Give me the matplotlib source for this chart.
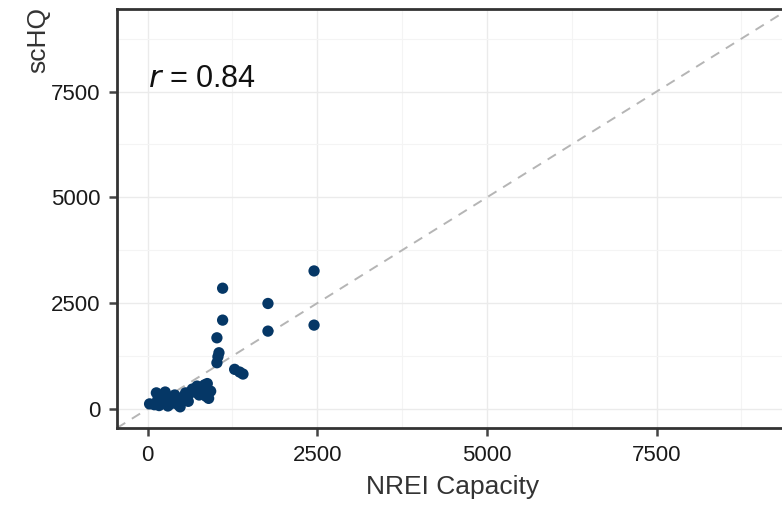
import matplotlib
matplotlib.use("Agg")
import matplotlib.pyplot as plt
from matplotlib.ticker import MultipleLocator

plt.rcParams['font.family'] = ['Liberation Sans', 'DejaVu Sans']

# NREI capacity vs scHQ, one point per site
nrei = [30, 100, 130, 150, 170, 230, 260, 290, 300, 340, 390, 450, 480, 520,
        560, 600, 610, 660, 700, 730, 760, 800, 840, 880, 880, 860, 900, 930,
        480, 400,
        1106, 1106, 1022, 1052, 1037, 1022, 1283, 1357, 1406,
        1774, 1774, 2453, 2453]
schq = [120, 100, 380, 220, 80, 300, 400, 220, 70, 120, 200, 100, 240, 280,
        380, 180, 350, 470, 400, 540, 330, 450, 570, 600, 400, 300, 250, 420,
        50, 330,
        2853, 2099, 1681, 1328, 1233, 1092, 936, 872, 825,
        2492, 1839, 3261, 1981]

r_value = 0.84
ticks = [0, 2500, 5000, 7500]
lims = (-450, 9450)

fig = plt.figure(figsize=(7.82, 5.08), dpi=100)
ax = fig.add_axes([117 / 782, 80 / 508, (789 - 117) / 782, (499 - 80) / 508])

ax.set_xlim(*lims)
ax.set_ylim(*lims)

ax.xaxis.set_major_locator(MultipleLocator(2500))
ax.yaxis.set_major_locator(MultipleLocator(2500))
ax.xaxis.set_minor_locator(MultipleLocator(1250))
ax.yaxis.set_minor_locator(MultipleLocator(1250))
ax.grid(which='major', color='#ebebeb', linewidth=1.0)
ax.grid(which='minor', color='#f4f4f4', linewidth=0.8)
ax.set_axisbelow(True)

ax.plot(lims, lims, linestyle=(0, (5, 4)), color='#b5b5b5', linewidth=1.4, zorder=1)
ax.scatter(nrei, schq, s=66, color='#053766', edgecolors='none', zorder=3)

ax.text(0, 7800, r'$\it{r}$ = ' + f'{r_value:.2f}', fontsize=22, color='#111111',
        ha='left', va='center')

for side in ['left', 'bottom', 'top', 'right']:
    ax.spines[side].set_color('#333333')
    ax.spines[side].set_linewidth(2.0)

ax.set_xticks(ticks)
ax.set_yticks(ticks)
ax.tick_params(which='major', direction='out', length=6, width=1.8, color='#444444',
               labelsize=16, labelcolor='#1a1a1a', pad=6)
ax.tick_params(which='minor', length=0)

ax.set_xlabel('NREI Capacity', fontsize=19, color='#333333', labelpad=7)
ax.set_ylabel('scHQ', fontsize=19, color='#333333', labelpad=10)
ax.yaxis.set_label_coords(-0.10, 0.925)

fig.savefig('out.png', dpi=100)
